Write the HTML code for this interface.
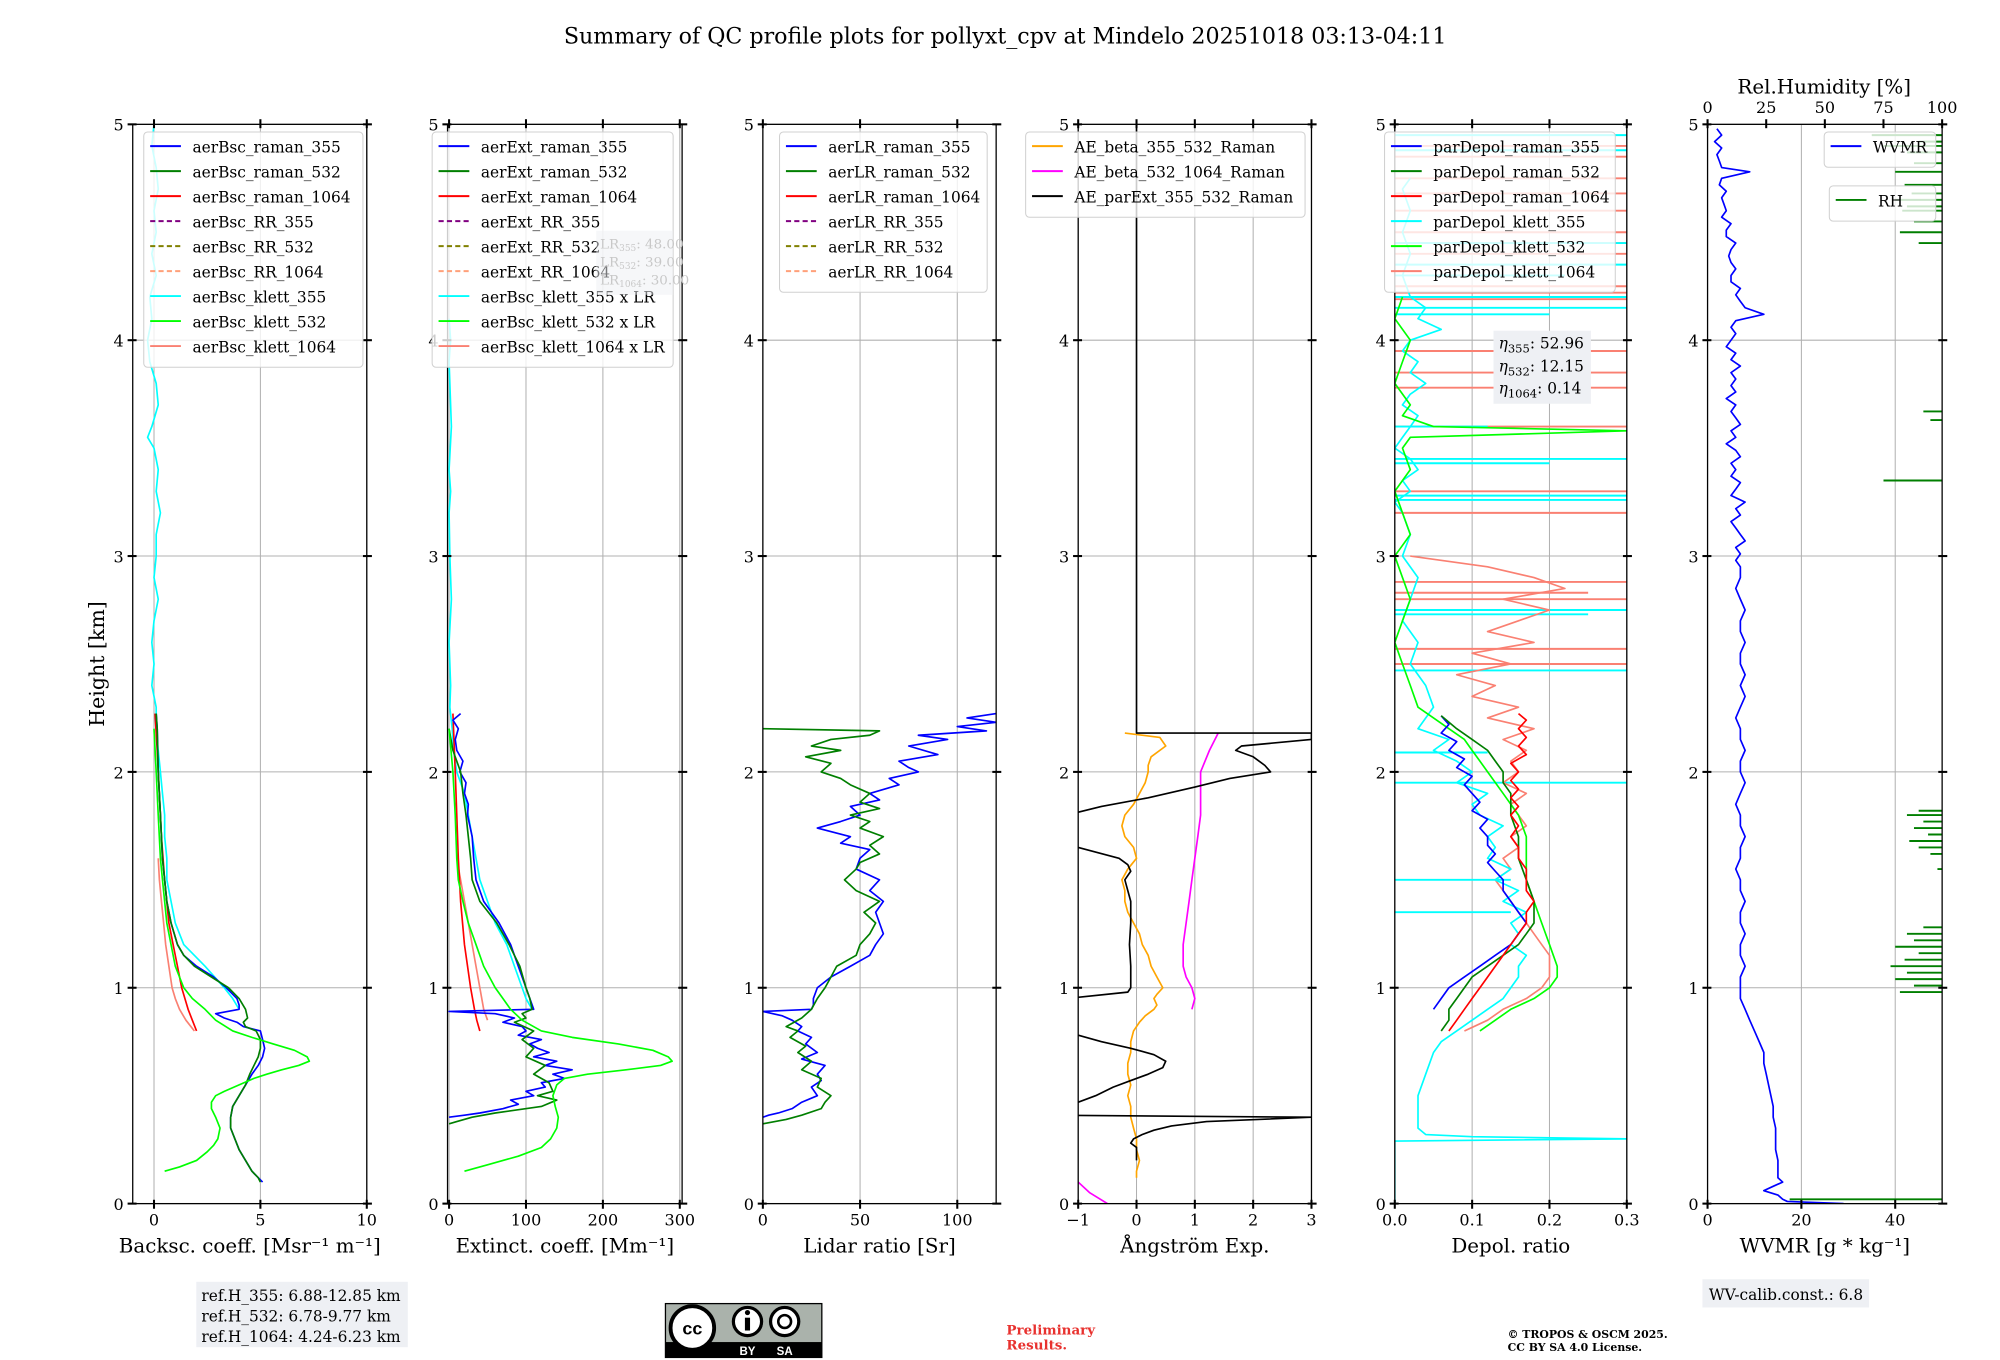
<!DOCTYPE html>
<html><head><meta charset="utf-8"><style>
html,body{margin:0;padding:0;background:#fff;}
svg{display:block;font-family:"DejaVu Serif","Liberation Serif",serif;}
</style></head><body>
<svg id="fig" width="2000" height="1360" viewBox="0 0 1560 1061" xmlns="http://www.w3.org/2000/svg">
<text x="784" y="34" font-size="17.3" text-anchor="middle">Summary of QC profile plots for pollyxt_cpv at Mindelo 20251018 03:13-04:11</text>
<g id="plots"></g>
<text transform="translate(81,518) rotate(-90)" font-size="16" text-anchor="middle">Height [km]</text>
<g>
<rect x="153" y="1000" width="165" height="51" fill="#eef0f4"/>
<text x="157" y="1015" font-size="12">ref.H_355: 6.88-12.85 km</text>
<text x="157" y="1031" font-size="12">ref.H_532: 6.78-9.77 km</text>
<text x="157" y="1047" font-size="12">ref.H_1064: 4.24-6.23 km</text>
</g>
<g>
<rect x="519" y="1017" width="122" height="42" fill="#aab2ab" stroke="#000" stroke-width="1"/>
<rect x="519" y="1047" width="122" height="12" fill="#000"/>
<circle cx="540" cy="1036" r="17" fill="#fff" stroke="#000" stroke-width="3"/>
<text x="540" y="1041" font-size="14" font-weight="bold" text-anchor="middle" font-family="Liberation Sans,sans-serif">cc</text>
<circle cx="583" cy="1031" r="11" fill="#fff" stroke="#000" stroke-width="2.5"/>
<circle cx="612" cy="1031" r="11" fill="#fff" stroke="#000" stroke-width="2.5"/>
<rect x="581" y="1028" width="4" height="10" fill="#000"/><circle cx="583" cy="1024" r="2" fill="#000"/>
<circle cx="612" cy="1031" r="5" fill="none" stroke="#000" stroke-width="2"/>
<text x="583" y="1057" font-size="9" fill="#fff" text-anchor="middle" font-family="Liberation Sans,sans-serif" font-weight="bold">BY</text>
<text x="612" y="1057" font-size="9" fill="#fff" text-anchor="middle" font-family="Liberation Sans,sans-serif" font-weight="bold">SA</text>
</g>
<text x="785" y="1041" font-size="10.5" fill="#e8312e" font-weight="bold">Preliminary</text>
<text x="785" y="1053" font-size="10.5" fill="#e8312e" font-weight="bold">Results.</text>
<text x="1176" y="1044" font-size="8.5" font-weight="bold">© TROPOS &amp; OSCM 2025.</text>
<text x="1176" y="1054" font-size="8.5" font-weight="bold">CC BY SA 4.0 License.</text>
<g>
<rect x="1328" y="998" width="130" height="22" fill="#eef0f4"/>
<text x="1333" y="1014" font-size="12">WV-calib.const.: 6.8</text>
</g>
</svg>
<script>
// ---------- data ----------
const bscR355_h=[2.27,2.2,2.0,1.8,1.6,1.5,1.4,1.3,1.2,1.15,1.1,1.05,1.0,0.95,0.92,0.9,0.88,0.86,0.84,0.82,0.8,0.76,0.72,0.68,0.64,0.6,0.55,0.5,0.45,0.4,0.35,0.3,0.25,0.2,0.15,0.12,0.1];
const bscR355_v=[0.1,0.15,0.2,0.3,0.4,0.5,0.6,0.8,1.1,1.4,2.0,2.8,3.4,3.9,4.0,4.0,2.9,3.3,3.9,4.2,5.0,5.1,5.2,5.1,4.9,4.6,4.3,4.0,3.7,3.6,3.6,3.8,4.0,4.3,4.6,4.9,5.1];
const bscR532_h=[2.27,2.2,2.0,1.8,1.6,1.5,1.4,1.3,1.2,1.15,1.1,1.05,1.0,0.95,0.9,0.86,0.84,0.82,0.8,0.76,0.72,0.68,0.64,0.6,0.55,0.5,0.45,0.4,0.35,0.3,0.25,0.2,0.15,0.12,0.1];
const bscR532_v=[0.1,0.15,0.2,0.3,0.4,0.5,0.6,0.8,1.1,1.4,1.9,2.7,3.5,4.0,4.3,4.4,4.2,4.3,4.8,5.0,5.0,4.9,4.7,4.5,4.3,4.0,3.7,3.6,3.6,3.8,4.0,4.3,4.6,4.9,5.0];
const bscR1064_h=[2.27,2.1,1.9,1.7,1.5,1.3,1.2,1.1,1.0,0.9,0.85,0.8];
const bscR1064_v=[0.05,0.15,0.25,0.35,0.5,0.7,0.9,1.1,1.3,1.6,1.8,2.0];
const bscK355_h=[5.0,4.9,4.8,4.7,4.6,4.5,4.4,4.3,4.2,4.1,4.0,3.9,3.8,3.7,3.6,3.55,3.5,3.4,3.3,3.2,3.1,3.0,2.9,2.8,2.7,2.6,2.5,2.4,2.3,2.2,2.1,2.0,1.9,1.8,1.7,1.6,1.5,1.4,1.3,1.2,1.1,1.0,0.95,0.9];
const bscK355_v=[0.0,-0.1,0.1,0.2,0.0,0.1,-0.1,0.1,-0.2,-0.1,-0.3,-0.2,0.1,0.2,-0.1,-0.3,0.0,0.2,0.1,0.3,0.1,0.1,0.0,0.2,0.0,-0.1,0.0,-0.1,0.1,0.1,0.2,0.3,0.4,0.5,0.5,0.6,0.6,0.8,1.0,1.4,2.4,3.3,3.7,4.0];
const bscK532_h=[2.2,2.0,1.8,1.6,1.5,1.4,1.3,1.2,1.1,1.0,0.95,0.9,0.85,0.8,0.77,0.74,0.71,0.68,0.66,0.64,0.62,0.6,0.58,0.55,0.52,0.5,0.47,0.44,0.4,0.35,0.3,0.27,0.24,0.2,0.17,0.15];
const bscK532_v=[0.0,0.1,0.2,0.3,0.4,0.5,0.6,0.8,1.0,1.4,1.8,2.4,2.9,3.7,4.6,5.6,6.6,7.2,7.3,6.8,6.0,5.3,4.7,4.0,3.3,2.9,2.7,2.7,2.9,3.1,3.0,2.8,2.5,2.0,1.2,0.5];
const bscK1064_h=[1.6,1.5,1.4,1.3,1.2,1.1,1.0,0.95,0.9,0.85,0.8];
const bscK1064_v=[0.2,0.25,0.35,0.45,0.55,0.7,0.85,1.0,1.2,1.5,1.9];
const extR355_h=[2.27,2.24,2.2,2.15,2.1,2.05,2.0,1.95,1.9,1.85,1.8,1.7,1.6,1.5,1.4,1.3,1.2,1.1,1.0,0.95,0.9,0.89,0.88,0.86,0.84,0.82,0.8,0.78,0.76,0.74,0.72,0.7,0.68,0.66,0.64,0.62,0.6,0.58,0.56,0.54,0.52,0.5,0.48,0.46,0.44,0.42,0.41,0.4];
const extR355_v=[15,5,12,8,10,18,14,22,20,25,24,30,32,35,45,65,80,90,100,105,110,0,60,85,70,95,100,90,120,105,115,130,110,140,125,160,135,150,120,125,100,110,80,90,70,40,20,0];
const extR532_h=[2.2,2.1,2.0,1.9,1.8,1.7,1.6,1.5,1.4,1.3,1.2,1.1,1.0,0.95,0.9,0.88,0.86,0.84,0.8,0.76,0.72,0.68,0.64,0.6,0.56,0.52,0.5,0.48,0.45,0.42,0.4,0.38,0.37];
const extR532_v=[0,5,15,18,22,25,28,30,40,62,78,92,100,105,108,95,100,85,110,95,110,100,125,110,130,135,115,140,120,60,30,10,0];
const extR1064_h=[2.27,2.0,1.8,1.6,1.4,1.2,1.0,0.9,0.85,0.8];
const extR1064_v=[5,8,10,12,15,20,28,33,36,40];
const extK355_h=[4.1,4.0,3.9,3.8,3.6,3.4,3.3,3.2,3.0,2.8,2.6,2.4,2.3,2.2,2.1,2.0,1.9,1.8,1.7,1.6,1.5,1.4,1.3,1.2,1.1,1.0,0.95,0.9];
const extK355_v=[0,2,0,1,3,0,2,0,1,3,0,2,1,4,6,10,20,25,30,35,40,50,60,75,85,95,100,108];
const extK532_h=[2.2,2.0,1.8,1.6,1.5,1.4,1.3,1.2,1.1,1.0,0.95,0.9,0.85,0.8,0.77,0.74,0.71,0.68,0.66,0.64,0.62,0.6,0.58,0.55,0.5,0.45,0.4,0.35,0.3,0.26,0.22,0.18,0.15];
const extK532_v=[0,5,8,10,12,18,25,35,45,60,70,80,95,120,160,220,265,285,290,275,230,180,150,140,135,138,142,140,132,120,90,50,20];
const extK1064_h=[1.6,1.5,1.4,1.3,1.2,1.1,1.0,0.9,0.85];
const extK1064_v=[10,15,20,25,30,35,40,45,50];
const lrR355_h=[2.27,2.25,2.23,2.21,2.19,2.17,2.15,2.12,2.08,2.05,2.02,2.0,1.97,1.94,1.9,1.87,1.84,1.8,1.77,1.74,1.7,1.67,1.64,1.6,1.55,1.5,1.45,1.4,1.35,1.3,1.25,1.2,1.15,1.1,1.05,1.0,0.95,0.92,0.9,0.89,0.87,0.85,0.82,0.8,0.77,0.74,0.7,0.67,0.64,0.6,0.57,0.54,0.5,0.47,0.44,0.42,0.41,0.4];
const lrR355_v=[120,105,120,100,115,80,95,75,90,70,75,80,65,70,55,60,45,50,40,28,45,40,55,50,48,60,55,62,58,60,62,58,55,45,35,28,26,26,25,0,10,15,20,18,25,22,28,20,32,28,30,25,28,20,15,8,3,0];
const lrR532_h=[2.2,2.19,2.17,2.15,2.12,2.1,2.07,2.04,2.0,1.97,1.94,1.9,1.86,1.83,1.8,1.77,1.74,1.7,1.66,1.62,1.58,1.55,1.5,1.45,1.4,1.35,1.3,1.25,1.2,1.15,1.1,1.05,1.0,0.95,0.9,0.86,0.82,0.8,0.77,0.73,0.7,0.66,0.62,0.58,0.54,0.5,0.47,0.44,0.41,0.39,0.37];
const lrR532_v=[0,60,55,35,25,40,22,35,30,40,45,55,50,60,45,55,50,62,55,60,50,48,42,48,60,52,58,55,50,48,38,35,32,28,25,20,12,18,14,22,18,25,20,30,28,35,32,30,20,12,0];
const aePE_h=[5.0,2.18,2.18,2.15,2.12,2.1,2.07,2.03,2.0,1.97,1.93,1.88,1.84,1.8,1.75,1.68,1.65,1.6,1.57,1.54,1.5,1.45,1.4,1.3,1.2,1.1,1.0,0.98,0.95,0.9,0.85,0.8,0.78,0.75,0.72,0.69,0.66,0.63,0.6,0.57,0.54,0.5,0.47,0.44,0.41,0.4,0.38,0.36,0.34,0.32,0.3,0.28,0.26,0.24,0.22,0.2];
const aePE_v=[0,0,3.0,3.0,1.8,1.7,2.0,2.2,2.3,1.6,1.0,0.2,-0.6,-1.2,-1.5,-1.2,-1.0,-0.3,-0.15,-0.1,-0.2,-0.15,-0.1,-0.1,-0.12,-0.1,-0.1,-0.15,-1.2,-1.3,-1.4,-1.2,-1.0,-0.6,-0.1,0.3,0.5,0.45,0.2,-0.1,-0.4,-0.7,-1.0,-1.3,-1.5,3.0,1.2,0.6,0.3,0.1,-0.05,-0.1,0.0,0.0,0.0,0.0];
const aeB355_h=[2.18,2.16,2.12,2.07,2.03,2.0,1.95,1.9,1.85,1.8,1.75,1.7,1.65,1.6,1.55,1.5,1.45,1.4,1.35,1.3,1.25,1.2,1.15,1.1,1.05,1.0,0.97,0.95,0.92,0.9,0.87,0.84,0.8,0.75,0.7,0.65,0.6,0.55,0.5,0.45,0.4,0.35,0.3,0.25,0.2,0.15,0.12];
const aeB355_v=[-0.2,0.4,0.5,0.25,0.2,0.2,0.15,0.05,-0.05,-0.2,-0.25,-0.2,-0.05,0.0,-0.15,-0.25,-0.2,-0.2,-0.15,-0.05,0.05,0.1,0.2,0.25,0.35,0.45,0.35,0.3,0.35,0.3,0.15,0.05,-0.05,-0.1,-0.1,-0.15,-0.15,-0.1,-0.15,-0.1,-0.1,-0.05,0.0,0.0,0.05,0.0,0.0];
const aeB532_h=[2.18,2.1,2.0,1.9,1.8,1.7,1.6,1.5,1.4,1.3,1.2,1.1,1.05,1.0,0.95,0.9];
const aeB532_v=[1.4,1.25,1.1,1.1,1.1,1.05,1.0,0.95,0.9,0.85,0.8,0.8,0.85,0.95,1.0,0.95];
const aeB532low_h=[0.1,0.05,0.0];
const aeB532low_v=[-1.0,-0.8,-0.5];
const dpR355_h=[2.26,2.22,2.18,2.14,2.1,2.06,2.02,1.98,1.94,1.9,1.86,1.82,1.78,1.74,1.7,1.66,1.62,1.58,1.54,1.5,1.45,1.4,1.35,1.3,1.25,1.2,1.15,1.1,1.05,1.0,0.95,0.9];
const dpR355_v=[0.06,0.07,0.06,0.08,0.07,0.09,0.08,0.1,0.09,0.1,0.11,0.1,0.12,0.11,0.12,0.12,0.13,0.12,0.13,0.14,0.14,0.15,0.16,0.17,0.16,0.15,0.13,0.11,0.09,0.07,0.06,0.05];
const dpR532_h=[2.26,2.2,2.15,2.1,2.05,2.0,1.95,1.9,1.85,1.8,1.7,1.6,1.5,1.4,1.3,1.25,1.2,1.15,1.1,1.05,1.0,0.95,0.9,0.85,0.8];
const dpR532_v=[0.06,0.08,0.1,0.12,0.13,0.14,0.14,0.15,0.15,0.15,0.16,0.16,0.17,0.18,0.18,0.17,0.16,0.14,0.12,0.1,0.09,0.08,0.07,0.07,0.06];
const dpR1064_h=[2.27,2.24,2.2,2.16,2.12,2.08,2.04,2.0,1.96,1.92,1.88,1.84,1.8,1.75,1.7,1.65,1.6,1.55,1.5,1.45,1.4,1.35,1.3,1.25,1.2,1.15,1.1,1.05,1.0,0.95,0.9,0.85,0.8];
const dpR1064_v=[0.16,0.17,0.16,0.17,0.16,0.17,0.15,0.16,0.15,0.16,0.15,0.16,0.15,0.16,0.15,0.16,0.16,0.17,0.17,0.17,0.18,0.17,0.17,0.16,0.15,0.14,0.13,0.12,0.11,0.1,0.09,0.08,0.07];
const dpK355_h=[4.75,4.7,4.6,4.5,4.4,4.3,4.2,4.15,4.1,4.05,4.0,3.95,3.9,3.85,3.8,3.75,3.7,3.65,3.6,3.55,3.5,3.45,3.4,3.35,3.3,3.25,3.2,3.1,3.0,2.9,2.8,2.7,2.6,2.5,2.4,2.3,2.2,2.15,2.1,2.05,2.0,1.95,1.9,1.85,1.8,1.75,1.7,1.65,1.6,1.55,1.5,1.45,1.4,1.35,1.3,1.25,1.2,1.15,1.1,1.05,1.0,0.95,0.9,0.85,0.8,0.75,0.7,0.6,0.5,0.4,0.35,0.32,0.31,0.3,0.29,0.2,0.1,0.0];
const dpK355_v=[0.02,0.01,0.02,0.01,0.02,0.01,0.02,0.04,0.03,0.06,0.02,0.01,0.03,0.02,0.04,0.02,0.01,0.03,0.02,0.01,0.0,0.02,0.03,0.01,0.02,0.0,0.01,0.02,0.01,0.03,0.02,0.01,0.03,0.02,0.04,0.05,0.03,0.07,0.05,0.08,0.1,0.08,0.12,0.1,0.11,0.14,0.12,0.13,0.12,0.15,0.13,0.16,0.14,0.17,0.15,0.16,0.15,0.17,0.16,0.16,0.15,0.14,0.12,0.1,0.08,0.06,0.05,0.04,0.03,0.03,0.03,0.04,0.1,0.3,0.0,0.0,0.0,0.0];
const dpK532_h=[4.2,4.1,4.0,3.9,3.8,3.7,3.65,3.6,3.58,3.55,3.5,3.4,3.3,3.2,3.1,3.0,2.9,2.8,2.7,2.6,2.5,2.4,2.3,2.25,2.2,2.15,2.1,2.05,2.0,1.9,1.8,1.7,1.6,1.5,1.4,1.3,1.2,1.1,1.05,1.0,0.95,0.9,0.85,0.8];
const dpK532_v=[0.01,0.0,0.02,0.01,0.0,0.02,0.01,0.05,0.3,0.02,0.01,0.02,0.0,0.01,0.02,0.0,0.01,0.02,0.01,0.0,0.01,0.02,0.03,0.05,0.07,0.09,0.1,0.11,0.12,0.14,0.16,0.17,0.17,0.17,0.18,0.19,0.2,0.21,0.21,0.2,0.18,0.15,0.13,0.11];
const dpK1064_h=[3.0,2.95,2.9,2.85,2.8,2.75,2.7,2.65,2.6,2.55,2.5,2.45,2.4,2.35,2.3,2.25,2.2,2.15,2.1,2.05,2.0,1.95,1.9,1.85,1.8,1.75,1.7,1.65,1.6,1.55,1.5,1.45,1.4,1.35,1.3,1.25,1.2,1.15,1.1,1.05,1.0,0.95,0.9,0.85,0.8];
const dpK1064_v=[0.02,0.12,0.18,0.22,0.14,0.2,0.16,0.12,0.18,0.1,0.15,0.08,0.13,0.1,0.16,0.12,0.18,0.14,0.17,0.15,0.16,0.14,0.17,0.15,0.16,0.17,0.15,0.16,0.14,0.15,0.13,0.14,0.15,0.16,0.17,0.18,0.19,0.2,0.2,0.2,0.19,0.17,0.14,0.12,0.09];
const spikeCyan_h=[4.95,4.88,4.45,4.35,4.3,4.2,4.15,4.12,3.6,3.45,3.43,3.28,3.26,2.75,2.73,2.47,2.09,1.95,1.5,1.35];
const spikeCyan_v=[0.3,0.3,0.3,0.3,0.22,0.3,0.3,0.2,0.12,0.3,0.2,0.3,0.3,0.3,0.25,0.3,0.12,0.3,0.15,0.15];
const spikeSalmon_h=[4.9,4.85,4.75,4.68,4.6,4.5,4.45,4.4,4.25,4.22,4.19,3.95,3.85,3.78,3.6,3.3,3.2,2.88,2.83,2.8,2.57,2.5];
const spikeSalmon_v=[0.3,0.3,0.3,0.3,0.3,0.3,0.3,0.3,0.3,0.3,0.3,0.3,0.3,0.3,0.3,0.3,0.3,0.3,0.25,0.3,0.3,0.3];
const wv_h=[4.98,4.95,4.92,4.89,4.86,4.83,4.8,4.78,4.75,4.72,4.69,4.66,4.63,4.6,4.57,4.54,4.51,4.48,4.45,4.42,4.39,4.36,4.33,4.3,4.27,4.24,4.21,4.18,4.15,4.12,4.09,4.06,4.03,4.0,3.97,3.94,3.91,3.88,3.85,3.82,3.79,3.76,3.73,3.7,3.67,3.64,3.61,3.58,3.55,3.52,3.49,3.46,3.43,3.4,3.37,3.34,3.31,3.28,3.25,3.22,3.19,3.16,3.13,3.1,3.07,3.04,3.01,2.98,2.95,2.9,2.85,2.8,2.75,2.7,2.65,2.6,2.55,2.5,2.45,2.4,2.35,2.3,2.25,2.2,2.15,2.1,2.05,2.0,1.95,1.9,1.85,1.8,1.75,1.7,1.65,1.6,1.55,1.5,1.45,1.4,1.35,1.3,1.25,1.2,1.15,1.1,1.05,1.0,0.95,0.9,0.85,0.8,0.75,0.7,0.65,0.6,0.55,0.5,0.45,0.4,0.35,0.3,0.25,0.2,0.15,0.12,0.1,0.08,0.06,0.04,0.02,0.01,0.0];
const wv_v=[2,3,1.5,3,2,2.5,3,9,3,2.5,4,3,3.5,4,3,5,4,4,6,5,4.5,5,6,5,5,7,6,7,8,12,6,5,6,5,4,6,5,7,5,6,5,6,4,6,5,6,7,5,6,4,6,7,5,6,5,7,6,5,8,6,7,5,6,7,8,6,7,6,7,7,6,7,8,7,7,8,7,7,8,7,8,7,6,7,7,8,7,7,8,7,6,7,7,8,7,7,6,7,7,8,7,7,8,7,7,8,7,7,7,8,9,10,11,12,12,12.5,13,13.5,14,14,14.5,14.5,14.5,15,15,15,16,14,12,15,16,17,29];
const rh_h=[4.97,4.95,4.92,4.9,4.87,4.82,4.78,4.72,4.68,4.65,4.62,4.6,4.55,4.5,4.45,3.67,3.63,3.35,1.82,1.8,1.77,1.74,1.71,1.68,1.65,1.62,1.55,1.28,1.25,1.22,1.19,1.16,1.13,1.1,1.07,1.04,1.01,0.98,0.02];
const rh_v=[100,70,90,75,85,88,80,84,87,80,85,83,88,82,90,92,95,75,90,85,92,88,94,86,90,95,98,92,85,88,80,90,84,78,85,80,88,82,35];

// ---------- drawing ----------
const NS='http://www.w3.org/2000/svg';
const root=document.getElementById('plots');
const Y0=939, KM=168.4;
function yOf(h){return Y0-h*KM;}
function el(tag,attrs,parent){const e=document.createElementNS(NS,tag);for(const k in attrs)e.setAttribute(k,attrs[k]);(parent||root).appendChild(e);return e;}
function axisX(p,v){return p.x0+(v-p.min)/(p.max-p.min)*(p.x1-p.x0);}

const panels=[
 {id:'backscatter',x0:103.4,x1:286,min:-1,max:10,ticks:[0,5,10],labels:['0','5','10'],xlabel:'Backsc. coeff. [Msr⁻¹ m⁻¹]'},
 {id:'extinction',x0:349,x1:532,min:-2,max:303,ticks:[0,100,200,300],labels:['0','100','200','300'],xlabel:'Extinct. coeff. [Mm⁻¹]'},
 {id:'lidar-ratio',x0:595,x1:777,min:0,max:120,ticks:[0,50,100],labels:['0','50','100'],xlabel:'Lidar ratio [Sr]'},
 {id:'angstrom',x0:841,x1:1023,min:-1,max:3,ticks:[-1,0,1,2,3],labels:['−1','0','1','2','3'],xlabel:'Ångström Exp.'},
 {id:'depol',x0:1088,x1:1269,min:0,max:0.3,ticks:[0,0.1,0.2,0.3],labels:['0.0','0.1','0.2','0.3'],xlabel:'Depol. ratio'},
 {id:'wvmr',x0:1332,x1:1515,min:0,max:50,ticks:[0,20,40],labels:['0','20','40'],xlabel:'WVMR [g * kg⁻¹]'}
];
const hticks=[0,1,2,3,4,5];

panels.forEach((p,i)=>{
  const g=el('g',{});
  
  
  const cp=el('clipPath',{id:'clip'+i},g);
  el('rect',{x:p.x0,y:yOf(5),width:p.x1-p.x0,height:KM*5},cp);
  p.g=g;
  p.ticks.forEach(t=>{const x=axisX(p,t);el('line',{x1:x,x2:x,y1:yOf(0),y2:yOf(5),stroke:'#b0b0b0','stroke-width':0.8},g);});
  hticks.forEach(h=>{el('line',{x1:p.x0,x2:p.x1,y1:yOf(h),y2:yOf(h),stroke:'#b0b0b0','stroke-width':0.8},g);});
  p.plot=el('g',{'clip-path':'url(#clip'+i+')'},g);
});

function series(pi,H,V,color,name,w){
  const p=panels[pi];
  let d='';
  for(let k=0;k<H.length;k++){d+=(k?'L':'M')+axisX(p,V[k]).toFixed(1)+','+yOf(H[k]).toFixed(1);}
  const e=el('path',{d:d,fill:'none',stroke:color,'stroke-width':w||1.3,'stroke-linejoin':'round'},p.plot);
  
  
}
function spikes(pi,H,V,color,name){
  const p=panels[pi];
  for(let k=0;k<H.length;k++){
    const e=el('line',{x1:p.x0,x2:axisX(p,V[k]),y1:yOf(H[k]),y2:yOf(H[k]),stroke:color,'stroke-width':1.5},p.plot);
    
    
  }
}
const C={b:'#0000ff',g:'#007f00',r:'#ff0000',c:'#00ffff',l:'#00ff00',s:'#fa8072',o:'#ffa500',m:'#ff00ff',k:'#000000'};

series(0,bscK355_h,bscK355_v,C.c,'line-bsc-klett-355');
series(0,bscK1064_h,bscK1064_v,C.s,'line-bsc-klett-1064');
series(0,bscR1064_h,bscR1064_v,C.r,'line-bsc-raman-1064');
series(0,bscR355_h,bscR355_v,C.b,'line-bsc-raman-355');
series(0,bscR532_h,bscR532_v,C.g,'line-bsc-raman-532');
series(0,bscK532_h,bscK532_v,C.l,'line-bsc-klett-532');

series(1,extK355_h,extK355_v,C.c,'line-ext-klett-355');
series(1,extK1064_h,extK1064_v,C.s,'line-ext-klett-1064');
series(1,extR1064_h,extR1064_v,C.r,'line-ext-raman-1064');
series(1,extR355_h,extR355_v,C.b,'line-ext-raman-355');
series(1,extR532_h,extR532_v,C.g,'line-ext-raman-532');
series(1,extK532_h,extK532_v,C.l,'line-ext-klett-532');

series(2,lrR355_h,lrR355_v,C.b,'line-lr-raman-355');
series(2,lrR532_h,lrR532_v,C.g,'line-lr-raman-532');

series(3,aeB355_h,aeB355_v,C.o,'line-ae-beta-355-532');
series(3,aeB532_h,aeB532_v,C.m,'line-ae-beta-532-1064');
series(3,aeB532low_h,aeB532low_v,C.m,'line-ae-beta-532-1064-low');
series(3,aePE_h,aePE_v,C.k,'line-ae-parext-355-532');

spikes(4,spikeSalmon_h,spikeSalmon_v,C.s,'spike-depol-klett-1064');
spikes(4,spikeCyan_h,spikeCyan_v,C.c,'spike-depol-klett-355');
series(4,dpK1064_h,dpK1064_v,C.s,'line-depol-klett-1064');
series(4,dpK355_h,dpK355_v,C.c,'line-depol-klett-355');
series(4,dpK532_h,dpK532_v,C.l,'line-depol-klett-532');
series(4,dpR355_h,dpR355_v,C.b,'line-depol-raman-355');
series(4,dpR532_h,dpR532_v,C.g,'line-depol-raman-532');
series(4,dpR1064_h,dpR1064_v,C.r,'line-depol-raman-1064');

series(5,wv_h,wv_v,C.b,'line-wvmr');
const rhPanel={x0:1332,x1:1515,min:0,max:100};
for(let k=0;k<rh_h.length;k++){
  const e=el('line',{x1:rhPanel.x1,x2:axisX(rhPanel,rh_v[k]),y1:yOf(rh_h[k]),y2:yOf(rh_h[k]),stroke:C.g,'stroke-width':1.5},panels[5].plot);
  
  
}

panels.forEach((p,i)=>{
  const g=p.g;
  el('rect',{x:p.x0,y:yOf(5),width:p.x1-p.x0,height:KM*5,fill:'none',stroke:'#000','stroke-width':1},g);
  p.ticks.forEach((t,k)=>{
    const x=axisX(p,t);
    el('line',{x1:x,x2:x,y1:yOf(0)-3,y2:yOf(0)+4,stroke:'#000','stroke-width':1.6},g);
    if(i<5) el('line',{x1:x,x2:x,y1:yOf(5)-4,y2:yOf(5)+3,stroke:'#000','stroke-width':1.6},g);
    const tl=el('text',{x:x,y:yOf(0)+17,'font-size':12.5,'text-anchor':'middle'},g);
    tl.textContent=p.labels[k];
    
    
  });
  hticks.forEach(h=>{
    el('line',{x1:p.x0-4,x2:p.x0+3,y1:yOf(h),y2:yOf(h),stroke:'#000','stroke-width':1.6},g);
    el('line',{x1:p.x1-3,x2:p.x1+4,y1:yOf(h),y2:yOf(h),stroke:'#000','stroke-width':1.6},g);
    const tl=el('text',{x:p.x0-7,y:yOf(h)+5,'font-size':12.5,'text-anchor':'end'},g);
    tl.textContent=String(h);
    
    
  });
  const xl=el('text',{x:(p.x0+p.x1)/2,y:yOf(0)+38,'font-size':15.5,'text-anchor':'middle'},g);
  xl.textContent=p.xlabel;
  
  
});
const rhTicks=[0,25,50,75,100];
rhTicks.forEach(t=>{
  const x=axisX(rhPanel,t);
  el('line',{x1:x,x2:x,y1:yOf(5)-4,y2:yOf(5)+3,stroke:'#000','stroke-width':1.6},panels[5].g);
  const tl=el('text',{x:x,y:yOf(5)-9,'font-size':12.5,'text-anchor':'middle'},panels[5].g);
  tl.textContent=String(t);
  
  
});
const rhT=el('text',{x:1423,y:73,'font-size':15.5,'text-anchor':'middle'},panels[5].g);
rhT.textContent='Rel.Humidity [%]';



function legend(x,y,w,entries,name){
  const g=el('g',{});
  
  
  el('rect',{x:x,y:y,width:w,height:entries.length*19.5+8,rx:3,fill:'#fff','fill-opacity':0.8,stroke:'#d0d0d0','stroke-width':0.8},g);
  entries.forEach((e,k)=>{
    const yy=y+11+k*19.5;
    el('line',{x1:x+5,x2:x+29,y1:yy,y2:yy,stroke:e[1],'stroke-width':1.5,'stroke-dasharray':e[2]?'4,2.5':'none'},g);
    const t=el('text',{x:x+38,y:yy+5,'font-size':12},g);
    t.textContent=e[0];
    
    
  });
}
const pur='#800080',oli='#808000',lsal='#ffa07a';
legend(112,103,171,[['aerBsc_raman_355',C.b],['aerBsc_raman_532',C.g],['aerBsc_raman_1064',C.r],['aerBsc_RR_355',pur,1],['aerBsc_RR_532',oli,1],['aerBsc_RR_1064',lsal,1],['aerBsc_klett_355',C.c],['aerBsc_klett_532',C.l],['aerBsc_klett_1064',C.s]],'legend-backscatter');
legend(337,103,188,[['aerExt_raman_355',C.b],['aerExt_raman_532',C.g],['aerExt_raman_1064',C.r],['aerExt_RR_355',pur,1],['aerExt_RR_532',oli,1],['aerExt_RR_1064',lsal,1],['aerBsc_klett_355 x LR',C.c],['aerBsc_klett_532 x LR',C.l],['aerBsc_klett_1064 x LR',C.s]],'legend-extinction');
legend(608,103,162,[['aerLR_raman_355',C.b],['aerLR_raman_532',C.g],['aerLR_raman_1064',C.r],['aerLR_RR_355',pur,1],['aerLR_RR_532',oli,1],['aerLR_RR_1064',lsal,1]],'legend-lidar-ratio');
legend(800,103,218,[['AE_beta_355_532_Raman',C.o],['AE_beta_532_1064_Raman',C.m],['AE_parExt_355_532_Raman',C.k]],'legend-angstrom');
legend(1080,103,180,[['parDepol_raman_355',C.b],['parDepol_raman_532',C.g],['parDepol_raman_1064',C.r],['parDepol_klett_355',C.c],['parDepol_klett_532',C.l],['parDepol_klett_1064',C.s]],'legend-depol');
legend(1423,103,87,[['WVMR',C.b]],'legend-wvmr');
legend(1427,145,83,[['RH',C.g]],'legend-rh');

(function(){
  const g=el('g',{});
  
  
  el('rect',{x:465,y:180,width:60,height:50,fill:'#eef0f4','fill-opacity':0.5},g);
  [['LR','355',': 48.00',194],['LR','532',': 39.00',208],['LR','1064',': 30.00',222]].forEach(a=>{
    const t=el('text',{x:468,y:a[3],'font-size':10.5,fill:'#c8c8c8'},g);
    t.innerHTML=a[0]+'<tspan font-size="7" dy="2">'+a[1]+'</tspan><tspan dy="-2">'+a[2]+'</tspan>';
  });
  const g2=el('g',{});
  
  
  el('rect',{x:1165,y:258,width:76,height:57,fill:'#eef0f4'},g2);
  [['355',': 52.96',272],['532',': 12.15',290],['1064',': 0.14',307]].forEach(a=>{
    const t=el('text',{x:1169,y:a[2],'font-size':12},g2);
    t.innerHTML='<tspan font-style="italic">η</tspan><tspan font-size="9" dy="3">'+a[0]+'</tspan><tspan dy="-3">'+a[1]+'</tspan>';
  });
})();
</script>
</body></html>
